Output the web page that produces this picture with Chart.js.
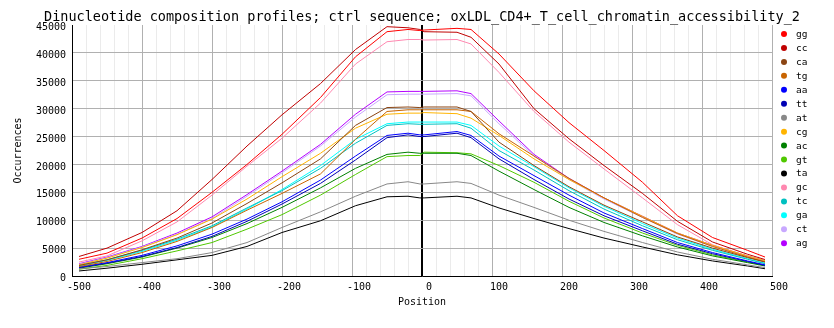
<!DOCTYPE html>
<html>
<head>
<meta charset="utf-8">
<script src="https://cdn.jsdelivr.net/npm/chart.js@4"></script>
<style>
  body { margin: 0; background: #fff; }
</style>
</head>
<body>
<canvas id="myChart" width="834" height="328"></canvas>
<script>
const titulo = "Dinucleotide composition profiles; ctrl sequence; oxLDL_CD4+_T_cell_chromatin_accessibility_2";

// posiciones
const positions = [-490, -450, -400, -350, -300, -250, -200, -145, -95, -50, -20, -3, 3, 50, 70, 110, 160, 210, 260, 315, 365, 415, 465, 490];

const gg = [3000, 4100, 6800, 10300, 15000, 20000, 25400, 32000, 39300, 43800, 44200, 44000, 44100, 44400, 44200, 39800, 33200, 27500, 22500, 16800, 10800, 6900, 4600, 3400];
const cc = [3500, 5000, 7800, 11700, 17300, 23300, 28900, 34500, 40600, 44700, 44500, 44200, 43800, 43700, 42800, 38000, 30000, 24600, 19800, 14800, 9800, 6100, 3900, 2950];
const ca = [1900, 2900, 4700, 6800, 9500, 13000, 16700, 21000, 27000, 30200, 30300, 30200, 30300, 30300, 29500, 24000, 19800, 16000, 12700, 9700, 7000, 5000, 3300, 2500];
const tg = [1700, 2600, 4200, 6200, 8700, 11800, 14800, 18300, 24500, 29500, 29800, 29800, 29800, 29800, 29500, 25500, 21500, 17500, 14000, 10500, 7600, 5300, 3400, 2550];
const aa = [1600, 2400, 3700, 5400, 7500, 10200, 13300, 17200, 21500, 25200, 25600, 25300, 25300, 25900, 25200, 21500, 18000, 14500, 11300, 8500, 6000, 4200, 2700, 2000];
const tt = [1500, 2300, 3500, 5100, 7100, 9800, 12900, 16600, 20800, 24800, 25300, 25000, 25000, 25600, 24800, 21000, 17300, 13800, 10800, 8100, 5700, 4000, 2600, 1900];
const at = [1300, 1700, 2400, 3100, 4200, 6000, 8700, 11500, 14300, 16500, 16900, 16500, 16500, 16900, 16600, 14500, 12300, 10000, 8000, 6000, 4300, 3000, 2000, 1500];
const cg = [2000, 3200, 5100, 7400, 10200, 13800, 17800, 22000, 26500, 29000, 29200, 29200, 29300, 29100, 28300, 25200, 21000, 17300, 14000, 10700, 7700, 5500, 3600, 2750];
const ac = [1400, 2200, 3400, 5000, 6900, 9400, 12300, 15800, 19300, 21800, 22200, 22000, 22000, 22000, 21600, 18800, 15500, 12300, 9600, 7200, 5200, 3600, 2400, 1800];
const gt = [1200, 1900, 3100, 4500, 6000, 8400, 11000, 14500, 18200, 21400, 21600, 21600, 22200, 22100, 21900, 19800, 16800, 13400, 10400, 7700, 5500, 3800, 2500, 1900];
const ta = [900, 1400, 2100, 2900, 3700, 5300, 7800, 9900, 12600, 14200, 14300, 14000, 14000, 14300, 14000, 12200, 10300, 8500, 6800, 5200, 3800, 2700, 1800, 1300];
const gc = [2500, 3600, 6300, 9700, 14500, 19700, 24700, 31000, 38000, 42000, 42400, 42400, 42300, 42400, 41600, 36500, 29500, 24000, 19200, 14000, 9200, 5600, 3500, 2650];
const tc = [1900, 2900, 4600, 6600, 9000, 12200, 15300, 19300, 23800, 27000, 27300, 27200, 27200, 27300, 26500, 22500, 19000, 15300, 12000, 9000, 6500, 4600, 3000, 2200];
const ga = [1800, 2800, 4400, 6400, 8800, 12000, 15500, 19800, 24500, 27300, 27600, 27600, 27600, 27600, 27000, 23300, 19600, 15800, 12500, 9400, 6800, 4800, 3100, 2300];
const ct = [2100, 3300, 5200, 7500, 10300, 14300, 18500, 23300, 28500, 32500, 32600, 32600, 32600, 32700, 32300, 27300, 21500, 17300, 13800, 10500, 7500, 5300, 3500, 2650];
const ag = [2200, 3400, 5300, 7700, 10600, 14600, 18800, 23600, 29000, 33000, 33100, 33100, 33100, 33200, 32700, 27800, 21800, 17500, 14000, 10700, 7700, 5500, 3600, 2750];

const nombres = ["gg", "cc", "ca", "tg", "aa", "tt", "at", "cg", "ac", "gt", "ta", "gc", "tc", "ga", "ct", "ag"];
const series = [gg, cc, ca, tg, aa, tt, at, cg, ac, gt, ta, gc, tc, ga, ct, ag];
const colores = ["#ff0000", "#c00000", "#8b4513", "#c86400", "#0000ff", "#0000b4", "#888888", "#ffb400",
  "#008000", "#50c800", "#000000", "#ff88b0", "#00c0c0", "#00ffff", "#c8a8ff", "#b400ff"];

const yTicks = [0, 5000, 10000, 15000, 20000, 25000, 30000, 35000, 40000, 45000];

const mono = '"DejaVu Sans Mono", "Liberation Mono", monospace';

function crearData() {
  let datasets = series.map((valores, i) => ({
    label: nombres[i],
    data: valores.map((v, j) => ({ x: positions[j], y: v })),
    borderColor: colores[i],
    backgroundColor: colores[i],
    borderWidth: 1,
    pointRadius: 0,
    tension: 0,
  }));
  return { datasets };
}

// titulo y leyenda a mano
const extras = {
  id: "extras",
  afterDraw(chart) {
    const ctx = chart.ctx;
    ctx.save();
    ctx.fillStyle = "#000";
    ctx.font = "13.5px " + mono;
    ctx.textAlign = "center";
    ctx.textBaseline = "alphabetic";
    ctx.fillText(titulo, 422, 21);

    ctx.font = "9.5px " + mono;
    ctx.textAlign = "left";
    ctx.textBaseline = "middle";
    chart.data.datasets.forEach((ds, i) => {
      let y = 34 + i * 13.95;
      ctx.fillStyle = ds.borderColor;
      ctx.beginPath();
      ctx.arc(784, y, 3, 0, Math.PI * 2);
      ctx.fill();
      ctx.fillStyle = "#000";
      ctx.fillText(ds.label, 796, y + 0.5);
    });
    ctx.restore();
  },
};

const config = {
  type: "line",
  data: crearData(),
  options: {
    responsive: false,
    animation: false,
    layout: { padding: { top: 25, right: 62, left: 0, bottom: 0 } },
    plugins: {
      legend: { display: false },
      title: { display: false },
      tooltip: { enabled: false },
    },
    scales: {
      x: {
        type: "linear",
        min: -500,
        max: 500,
        afterFit: (s) => { s.height = 52; },
        border: { color: "#000", width: 1 },
        grid: {
          drawTicks: false,
          color: (c) => {
            let v = c.tick.value;
            if (v === 0) return "#000";
            if (v % 100 === 0) return "#b0b0b0";
            return "#ebebeb";
          },
          lineWidth: (c) => (c.tick.value === 0 ? 2 : 1),
        },
        ticks: {
          stepSize: 20,
          autoSkip: false,
          maxRotation: 0,
          labelOffset: 7,
          padding: 5,
          color: "#000",
          font: { family: mono, size: 10 },
          callback: (v) => (v % 100 === 0 ? String(v) : ""),
        },
        title: {
          display: true,
          text: "Position",
          color: "#000",
          font: { family: mono, size: 10 },
          padding: { top: 0, bottom: 20 },
        },
      },
      y: {
        min: 0,
        max: 45000,
        afterFit: (s) => { s.width = 72; },
        afterBuildTicks: (s) => { s.ticks = yTicks.map((v) => ({ value: v })); },
        border: { color: "#000", width: 1 },
        grid: {
          drawTicks: false,
          color: (c) => (c.tick.value === 45000 ? "rgba(0,0,0,0)" : "#b0b0b0"),
        },
        ticks: {
          padding: 6,
          labelOffset: 2.5,
          color: "#000",
          font: { family: mono, size: 10 },
          callback: (v) => String(v),
        },
        title: {
          display: true,
          text: "Occurrences",
          color: "#000",
          font: { family: mono, size: 10 },
          padding: { top: 12, bottom: 0 },
        },
      },
    },
  },
  plugins: [extras],
};

const myChart = new Chart(document.getElementById("myChart"), config);
</script>
</body>
</html>
